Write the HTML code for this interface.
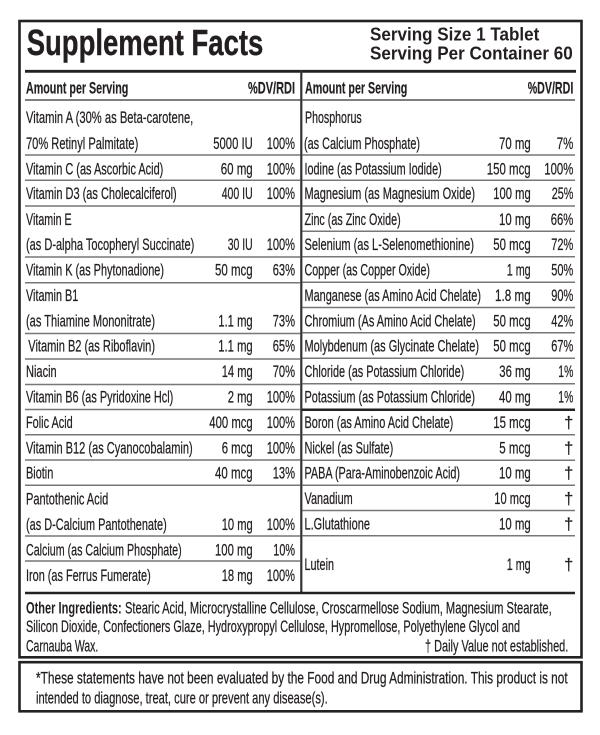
<!DOCTYPE html>
<html><head><meta charset="utf-8"><style>
html,body{margin:0;padding:0;background:#fff;}
svg{display:block;}
text{font-family:"Liberation Sans Narrow","Liberation Sans",Arial,sans-serif;fill:#231f20;font-size:16.5px;stroke:#231f20;stroke-width:0.25;}
.b{font-weight:bold;stroke-width:0;}
.h{font-size:17px;font-weight:bold;stroke-width:0.2;}
.g{stroke:#777;stroke-width:1.5;}
.k{stroke:#222;}
</style></head><body>
<svg width="600" height="735" viewBox="0 0 600 735" xmlns="http://www.w3.org/2000/svg">
<rect x="0" y="0" width="600" height="735" fill="#fff"/>
<rect x="19.5" y="21" width="562" height="636.3" fill="none" stroke="#222" stroke-width="2.6"/>
<rect x="19.5" y="662.2" width="562" height="49.1" fill="none" stroke="#222" stroke-width="2.6"/>
<text x="26.7" y="55" class="b" style="font-size:36px;stroke-width:0.4" textLength="236.6" lengthAdjust="spacingAndGlyphs">Supplement Facts</text>
<text x="370" y="40.7" class="b" style="font-size:18.5px" textLength="169.3" lengthAdjust="spacingAndGlyphs">Serving Size 1 Tablet</text>
<text x="370" y="59.5" class="b" style="font-size:18.5px" textLength="202.7" lengthAdjust="spacingAndGlyphs">Serving Per Container 60</text>
<line x1="25" y1="71.3" x2="576" y2="71.3" class="k" stroke-width="2.8"/>
<line x1="301.3" y1="70" x2="301.3" y2="594" stroke="#333" stroke-width="2.2"/>
<text x="26" y="93.3" class="h" textLength="102.3" lengthAdjust="spacingAndGlyphs">Amount per Serving</text>
<text x="295" y="93.3" class="h" text-anchor="end" textLength="47" lengthAdjust="spacingAndGlyphs">%DV/RDI</text>
<text x="305" y="93.3" class="h" textLength="102.3" lengthAdjust="spacingAndGlyphs">Amount per Serving</text>
<text x="573.3" y="93.3" class="h" text-anchor="end" textLength="45.6" lengthAdjust="spacingAndGlyphs">%DV/RDI</text>
<line x1="25" y1="100" x2="300.5" y2="100" stroke="#555" stroke-width="1.5"/>
<line x1="302.5" y1="100" x2="575" y2="100" stroke="#555" stroke-width="1.5"/>

<g class="g">
<line x1="25" x2="300.5" y1="155" y2="155"/>
<line x1="25" x2="300.5" y1="180.3" y2="180.3"/>
<line x1="25" x2="300.5" y1="206" y2="206"/>
<line x1="25" x2="300.5" y1="257" y2="257"/>
<line x1="25" x2="300.5" y1="282.7" y2="282.7"/>
<line x1="25" x2="300.5" y1="333.5" y2="333.5"/>
<line x1="25" x2="300.5" y1="359" y2="359"/>
<line x1="25" x2="300.5" y1="384.5" y2="384.5"/>
<line x1="25" x2="300.5" y1="409.5" y2="409.5"/>
<line x1="25" x2="300.5" y1="434.8" y2="434.8"/>
<line x1="25" x2="300.5" y1="460" y2="460"/>
<line x1="25" x2="300.5" y1="485.3" y2="485.3"/>
<line x1="25" x2="300.5" y1="536" y2="536"/>
<line x1="25" x2="300.5" y1="561" y2="561"/>
<line x1="302.5" x2="575" y1="155" y2="155"/>
<line x1="302.5" x2="575" y1="180.3" y2="180.3"/>
<line x1="302.5" x2="575" y1="206" y2="206"/>
<line x1="302.5" x2="575" y1="231.3" y2="231.3"/>
<line x1="302.5" x2="575" y1="256.8" y2="256.8"/>
<line x1="302.5" x2="575" y1="282.2" y2="282.2"/>
<line x1="302.5" x2="575" y1="307.5" y2="307.5"/>
<line x1="302.5" x2="575" y1="332.8" y2="332.8"/>
<line x1="302.5" x2="575" y1="358.3" y2="358.3"/>
<line x1="302.5" x2="575" y1="383.7" y2="383.7"/>
<line x1="302.5" x2="575" y1="434.8" y2="434.8"/>
<line x1="302.5" x2="575" y1="460.2" y2="460.2"/>
<line x1="302.5" x2="575" y1="485.3" y2="485.3"/>
<line x1="302.5" x2="575" y1="510.5" y2="510.5"/>
<line x1="302.5" x2="575" y1="535.8" y2="535.8"/>
</g>
<line x1="302" x2="575" y1="409.8" y2="409.8" class="k" stroke-width="2.5"/>
<line x1="25" x2="575" y1="593" y2="593" class="k" stroke-width="2.5"/>

<text x="26" y="123" textLength="167.3" lengthAdjust="spacingAndGlyphs">Vitamin A (30% as Beta-carotene,</text>
<text x="26" y="149" textLength="112.3" lengthAdjust="spacingAndGlyphs">70% Retinyl Palmitate)</text>
<text x="252.7" y="149" text-anchor="end" textLength="39.4" lengthAdjust="spacingAndGlyphs">5000 IU</text>
<text x="295" y="149" text-anchor="end" textLength="28.3" lengthAdjust="spacingAndGlyphs">100%</text>

<text x="26" y="174.3" textLength="137.3" lengthAdjust="spacingAndGlyphs">Vitamin C (as Ascorbic Acid)</text>
<text x="252.7" y="174.3" text-anchor="end" textLength="32" lengthAdjust="spacingAndGlyphs">60 mg</text>
<text x="295" y="174.3" text-anchor="end" textLength="28.3" lengthAdjust="spacingAndGlyphs">100%</text>

<text x="26" y="199" textLength="150.7" lengthAdjust="spacingAndGlyphs">Vitamin D3 (as Cholecalciferol)</text>
<text x="252.7" y="199" text-anchor="end" textLength="31" lengthAdjust="spacingAndGlyphs">400 IU</text>
<text x="295" y="199" text-anchor="end" textLength="28.3" lengthAdjust="spacingAndGlyphs">100%</text>

<text x="26" y="225" textLength="45.7" lengthAdjust="spacingAndGlyphs">Vitamin E</text>
<text x="26" y="250" textLength="168.3" lengthAdjust="spacingAndGlyphs">(as D-alpha Tocopheryl Succinate)</text>
<text x="252.7" y="250" text-anchor="end" textLength="25" lengthAdjust="spacingAndGlyphs">30 IU</text>
<text x="295" y="250" text-anchor="end" textLength="28.3" lengthAdjust="spacingAndGlyphs">100%</text>

<text x="26" y="275.3" textLength="138" lengthAdjust="spacingAndGlyphs">Vitamin K (as Phytonadione)</text>
<text x="252.7" y="275.3" text-anchor="end" textLength="37.7" lengthAdjust="spacingAndGlyphs">50 mcg</text>
<text x="295" y="275.3" text-anchor="end" textLength="22.3" lengthAdjust="spacingAndGlyphs">63%</text>

<text x="26" y="301" textLength="52.3" lengthAdjust="spacingAndGlyphs">Vitamin B1</text>
<text x="26" y="326.5" textLength="129" lengthAdjust="spacingAndGlyphs">(as Thiamine Mononitrate)</text>
<text x="252.7" y="326.5" text-anchor="end" textLength="34.4" lengthAdjust="spacingAndGlyphs">1.1 mg</text>
<text x="295" y="326.5" text-anchor="end" textLength="22.3" lengthAdjust="spacingAndGlyphs">73%</text>

<text x="28.3" y="351.7" textLength="126.7" lengthAdjust="spacingAndGlyphs">Vitamin B2 (as Riboflavin)</text>
<text x="252.7" y="351.7" text-anchor="end" textLength="34.4" lengthAdjust="spacingAndGlyphs">1.1 mg</text>
<text x="295" y="351.7" text-anchor="end" textLength="22.3" lengthAdjust="spacingAndGlyphs">65%</text>

<text x="26" y="376.8" textLength="30.7" lengthAdjust="spacingAndGlyphs">Niacin</text>
<text x="252.7" y="376.8" text-anchor="end" textLength="31" lengthAdjust="spacingAndGlyphs">14 mg</text>
<text x="295" y="376.8" text-anchor="end" textLength="22.3" lengthAdjust="spacingAndGlyphs">70%</text>

<text x="26" y="402.3" textLength="147.3" lengthAdjust="spacingAndGlyphs">Vitamin B6 (as Pyridoxine Hcl)</text>
<text x="252.7" y="402.3" text-anchor="end" textLength="25" lengthAdjust="spacingAndGlyphs">2 mg</text>
<text x="295" y="402.3" text-anchor="end" textLength="28.3" lengthAdjust="spacingAndGlyphs">100%</text>

<text x="26" y="428" textLength="46.7" lengthAdjust="spacingAndGlyphs">Folic Acid</text>
<text x="252.7" y="428" text-anchor="end" textLength="43.4" lengthAdjust="spacingAndGlyphs">400 mcg</text>
<text x="295" y="428" text-anchor="end" textLength="28.3" lengthAdjust="spacingAndGlyphs">100%</text>

<text x="26" y="453.3" textLength="166.7" lengthAdjust="spacingAndGlyphs">Vitamin B12 (as Cyanocobalamin)</text>
<text x="252.7" y="453.3" text-anchor="end" textLength="31" lengthAdjust="spacingAndGlyphs">6 mcg</text>
<text x="295" y="453.3" text-anchor="end" textLength="28.3" lengthAdjust="spacingAndGlyphs">100%</text>

<text x="26" y="478.5" textLength="27.3" lengthAdjust="spacingAndGlyphs">Biotin</text>
<text x="252.7" y="478.5" text-anchor="end" textLength="37.7" lengthAdjust="spacingAndGlyphs">40 mcg</text>
<text x="295" y="478.5" text-anchor="end" textLength="22.3" lengthAdjust="spacingAndGlyphs">13%</text>

<text x="26" y="504.5" textLength="82.3" lengthAdjust="spacingAndGlyphs">Pantothenic Acid</text>
<text x="26" y="530" textLength="140.7" lengthAdjust="spacingAndGlyphs">(as D-Calcium Pantothenate)</text>
<text x="252.7" y="530" text-anchor="end" textLength="31" lengthAdjust="spacingAndGlyphs">10 mg</text>
<text x="295" y="530" text-anchor="end" textLength="28.3" lengthAdjust="spacingAndGlyphs">100%</text>

<text x="26" y="555.5" textLength="155.7" lengthAdjust="spacingAndGlyphs">Calcium (as Calcium Phosphate)</text>
<text x="252.7" y="555.5" text-anchor="end" textLength="37.7" lengthAdjust="spacingAndGlyphs">100 mg</text>
<text x="295" y="555.5" text-anchor="end" textLength="21.7" lengthAdjust="spacingAndGlyphs">10%</text>

<text x="26" y="581" textLength="124.7" lengthAdjust="spacingAndGlyphs">Iron (as Ferrus Fumerate)</text>
<text x="252.7" y="581" text-anchor="end" textLength="31" lengthAdjust="spacingAndGlyphs">18 mg</text>
<text x="295" y="581" text-anchor="end" textLength="28.3" lengthAdjust="spacingAndGlyphs">100%</text>

<text x="305" y="123" textLength="56.7" lengthAdjust="spacingAndGlyphs">Phosphorus</text>
<text x="304" y="149" textLength="116" lengthAdjust="spacingAndGlyphs">(as Calcium Phosphate)</text>
<text x="530.7" y="149" text-anchor="end" textLength="31.7" lengthAdjust="spacingAndGlyphs">70 mg</text>
<text x="573.3" y="149" text-anchor="end" textLength="16.6" lengthAdjust="spacingAndGlyphs">7%</text>

<text x="304.5" y="174.3" textLength="137.2" lengthAdjust="spacingAndGlyphs">Iodine (as Potassium Iodide)</text>
<text x="530.7" y="174.3" text-anchor="end" textLength="44" lengthAdjust="spacingAndGlyphs">150 mcg</text>
<text x="573.3" y="174.3" text-anchor="end" textLength="29" lengthAdjust="spacingAndGlyphs">100%</text>

<text x="304.5" y="199" textLength="170.5" lengthAdjust="spacingAndGlyphs">Magnesium (as Magnesium Oxide)</text>
<text x="530.7" y="199" text-anchor="end" textLength="37.4" lengthAdjust="spacingAndGlyphs">100 mg</text>
<text x="573.3" y="199" text-anchor="end" textLength="21.6" lengthAdjust="spacingAndGlyphs">25%</text>

<text x="304.5" y="225" textLength="96.2" lengthAdjust="spacingAndGlyphs">Zinc (as Zinc Oxide)</text>
<text x="530.7" y="225" text-anchor="end" textLength="31.7" lengthAdjust="spacingAndGlyphs">10 mg</text>
<text x="573.3" y="225" text-anchor="end" textLength="22.6" lengthAdjust="spacingAndGlyphs">66%</text>

<text x="304.5" y="250" textLength="169.5" lengthAdjust="spacingAndGlyphs">Selenium (as L-Selenomethionine)</text>
<text x="530.7" y="250" text-anchor="end" textLength="37.4" lengthAdjust="spacingAndGlyphs">50 mcg</text>
<text x="573.3" y="250" text-anchor="end" textLength="22" lengthAdjust="spacingAndGlyphs">72%</text>

<text x="304.5" y="275.5" textLength="125.5" lengthAdjust="spacingAndGlyphs">Copper (as Copper Oxide)</text>
<text x="530.7" y="275.5" text-anchor="end" textLength="24" lengthAdjust="spacingAndGlyphs">1 mg</text>
<text x="573.3" y="275.5" text-anchor="end" textLength="22" lengthAdjust="spacingAndGlyphs">50%</text>

<text x="304.5" y="301" textLength="176.5" lengthAdjust="spacingAndGlyphs">Manganese (as Amino Acid Chelate)</text>
<text x="530.7" y="301" text-anchor="end" textLength="35.7" lengthAdjust="spacingAndGlyphs">1.8 mg</text>
<text x="573.3" y="301" text-anchor="end" textLength="22" lengthAdjust="spacingAndGlyphs">90%</text>

<text x="304.5" y="326.5" textLength="171.2" lengthAdjust="spacingAndGlyphs">Chromium (As Amino Acid Chelate)</text>
<text x="530.7" y="326.5" text-anchor="end" textLength="37.4" lengthAdjust="spacingAndGlyphs">50 mcg</text>
<text x="573.3" y="326.5" text-anchor="end" textLength="22" lengthAdjust="spacingAndGlyphs">42%</text>

<text x="304.5" y="351.7" textLength="174.5" lengthAdjust="spacingAndGlyphs">Molybdenum (as Glycinate Chelate)</text>
<text x="530.7" y="351.7" text-anchor="end" textLength="37.4" lengthAdjust="spacingAndGlyphs">50 mcg</text>
<text x="573.3" y="351.7" text-anchor="end" textLength="22" lengthAdjust="spacingAndGlyphs">67%</text>

<text x="304.5" y="376.8" textLength="159.8" lengthAdjust="spacingAndGlyphs">Chloride (as Potassium Chloride)</text>
<text x="530.7" y="376.8" text-anchor="end" textLength="31.4" lengthAdjust="spacingAndGlyphs">36 mg</text>
<text x="573.3" y="376.8" text-anchor="end" textLength="15" lengthAdjust="spacingAndGlyphs">1%</text>

<text x="304.5" y="402.3" textLength="170.5" lengthAdjust="spacingAndGlyphs">Potassium (as Potassium Chloride)</text>
<text x="530.7" y="402.3" text-anchor="end" textLength="31.7" lengthAdjust="spacingAndGlyphs">40 mg</text>
<text x="573.3" y="402.3" text-anchor="end" textLength="15" lengthAdjust="spacingAndGlyphs">1%</text>

<text x="304.5" y="428" textLength="148.8" lengthAdjust="spacingAndGlyphs">Boron (as Amino Acid Chelate)</text>
<text x="530.7" y="428" text-anchor="end" textLength="37.4" lengthAdjust="spacingAndGlyphs">15 mcg</text>
<text x="573.3" y="428" text-anchor="end">†</text>

<text x="304.5" y="453.3" textLength="88.8" lengthAdjust="spacingAndGlyphs">Nickel (as Sulfate)</text>
<text x="530.7" y="453.3" text-anchor="end" textLength="31.4" lengthAdjust="spacingAndGlyphs">5 mcg</text>
<text x="573.3" y="453.3" text-anchor="end">†</text>

<text x="304.5" y="478.5" textLength="155.5" lengthAdjust="spacingAndGlyphs">PABA (Para-Aminobenzoic Acid)</text>
<text x="530.7" y="478.5" text-anchor="end" textLength="31.7" lengthAdjust="spacingAndGlyphs">10 mg</text>
<text x="573.3" y="478.5" text-anchor="end">†</text>

<text x="304.5" y="504" textLength="48.2" lengthAdjust="spacingAndGlyphs">Vanadium</text>
<text x="530.7" y="504" text-anchor="end" textLength="36.4" lengthAdjust="spacingAndGlyphs">10 mcg</text>
<text x="573.3" y="504" text-anchor="end">†</text>

<text x="304.5" y="529.5" textLength="65.5" lengthAdjust="spacingAndGlyphs">L.Glutathione</text>
<text x="530.7" y="529.5" text-anchor="end" textLength="31.7" lengthAdjust="spacingAndGlyphs">10 mg</text>
<text x="573.3" y="529.5" text-anchor="end">†</text>

<text x="304.5" y="570" textLength="29.5" lengthAdjust="spacingAndGlyphs">Lutein</text>
<text x="530.7" y="570" text-anchor="end" textLength="24" lengthAdjust="spacingAndGlyphs">1 mg</text>
<text x="573.3" y="570" text-anchor="end">†</text>

<text x="26" y="613.3" class="b" style="font-size:16.5px" textLength="95.7" lengthAdjust="spacingAndGlyphs">Other Ingredients:</text>
<text x="125" y="613.3" style="font-size:16.5px" textLength="426.7" lengthAdjust="spacingAndGlyphs">Stearic Acid, Microcrystalline Cellulose, Croscarmellose Sodium, Magnesium Stearate,</text>
<text x="26" y="632" style="font-size:16.5px" textLength="494" lengthAdjust="spacingAndGlyphs">Silicon Dioxide, Confectioners Glaze, Hydroxypropyl Cellulose, Hypromellose, Polyethylene Glycol and</text>
<text x="26" y="651.5" style="font-size:16.5px" textLength="72.3" lengthAdjust="spacingAndGlyphs">Carnauba Wax.</text>
<text x="568.3" y="651.5" text-anchor="end" style="font-size:16.5px" textLength="143.3" lengthAdjust="spacingAndGlyphs">† Daily Value not established.</text>

<text x="36" y="683.3" style="font-size:16.5px" textLength="531.7" lengthAdjust="spacingAndGlyphs">*These statements have not been evaluated by the Food and Drug Administration. This product is not</text>
<text x="36" y="703.3" style="font-size:16.5px" textLength="291.7" lengthAdjust="spacingAndGlyphs">intended to diagnose, treat, cure or prevent any disease(s).</text>
</svg>
</body></html>
